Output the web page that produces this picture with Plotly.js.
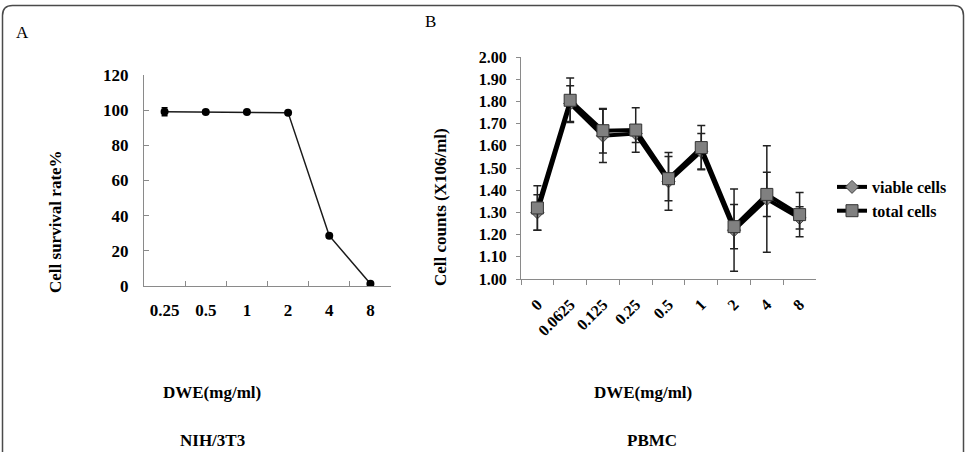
<!DOCTYPE html>
<html>
<head>
<meta charset="utf-8">
<script src="https://cdn.plot.ly/plotly-3.0.1.min.js"></script>
<style>
  html, body { margin: 0; padding: 0; background: #fff; }
  #chart { width: 967px; height: 452px; }
</style>
</head>
<body>
<div id="chart"></div>
<script>
// Panel A: NIH/3T3 survival versus DWE dose
const doseA = ['0.25', '0.5', '1', '2', '4', '8'];
const survival = [99.1, 99.0, 99.0, 98.6, 28.6, 1.3];
const survivalErr = [2.3, 0.8, 1.0, 0.8, 1.0, 0.8];

// Panel B: PBMC cell counts (x10^6/ml) versus DWE dose
const doseB = ['0', '0.0625', '0.125', '0.25', '0.5', '1', '2', '4', '8'];
const viable = [1.30, 1.79, 1.645, 1.655, 1.44, 1.575, 1.22, 1.36, 1.275];
const viableErr = [0.08, 0.08, 0.12, 0.04, 0.13, 0.08, 0.185, 0.24, 0.05];
const total = [1.32, 1.805, 1.668, 1.671, 1.452, 1.592, 1.236, 1.381, 1.29];
const totalErr = [0.10, 0.10, 0.10, 0.10, 0.10, 0.10, 0.10, 0.10, 0.10];

const W = 967, H = 452;
const px = x => x / W;
const py = y => 1 - y / H;
const SERIF = '"Liberation Serif", "Times New Roman", serif';
const boldFont = size => ({ family: SERIF, size: size, color: '#000', weight: 'bold' });

const traces = [
  {
    x: doseA, y: survival, xaxis: 'x', yaxis: 'y',
    type: 'scatter', mode: 'lines+markers', showlegend: false,
    line: { color: '#1a1a1a', width: 1.5 },
    marker: { symbol: 'circle', size: 8, color: '#000' },
    error_y: { type: 'data', array: survivalErr, visible: true, color: '#000', thickness: 1.5, width: 3 }
  },
  {
    name: 'viable cells',
    x: doseB, y: viable, xaxis: 'x2', yaxis: 'y2',
    type: 'scatter', mode: 'lines+markers',
    line: { color: '#000', width: 4 },
    marker: { symbol: 'diamond', size: 10, color: '#8c8c8c', line: { color: '#444', width: 1 } },
    error_y: { type: 'data', array: viableErr, visible: true, color: '#222', thickness: 1.5, width: 4 }
  },
  {
    name: 'total cells',
    x: doseB, y: total, xaxis: 'x2', yaxis: 'y2',
    type: 'scatter', mode: 'lines+markers',
    line: { color: '#000', width: 4 },
    marker: { symbol: 'square', size: 12, color: '#808080', line: { color: '#333', width: 1 } },
    error_y: { type: 'data', array: totalErr, visible: true, color: '#222', thickness: 1.5, width: 4 }
  }
];

// rounded frame around both panels, open at the bottom edge
const x0 = px(2.5), x1 = px(963.5), yt = py(5.5), yb = py(470), r = 10;
const framePath = `M ${x0} ${yb} L ${x0} ${py(5.5 + r)} Q ${x0} ${yt} ${px(2.5 + r)} ${yt} ` +
  `L ${px(963.5 - r)} ${yt} Q ${x1} ${yt} ${x1} ${py(5.5 + r)} L ${x1} ${yb}`;

// centred text label placed by pixel position
const label = (text, x, y, font, angle) => ({
  text: text, x: px(x), y: py(y), xref: 'paper', yref: 'paper',
  xanchor: 'center', yanchor: 'middle', showarrow: false,
  textangle: angle || 0, font: font
});

const layout = {
  width: W, height: H,
  margin: { l: 0, r: 0, t: 0, b: 0 },
  paper_bgcolor: '#fff', plot_bgcolor: 'rgba(0,0,0,0)',
  font: { family: SERIF, color: '#000' },
  showlegend: true,
  legend: {
    x: px(832), y: py(170), xanchor: 'left', yanchor: 'top',
    font: boldFont(16), bgcolor: 'rgba(0,0,0,0)', tracegroupgap: 0
  },
  xaxis: {
    domain: [px(144), px(391)], anchor: 'y',
    type: 'category', range: [-0.5, 5.5], tickson: 'boundaries',
    showgrid: false, showline: true, linecolor: '#8a8a8a', linewidth: 1,
    ticks: 'inside', ticklen: 5, tickcolor: '#8a8a8a',
    tickfont: boldFont(17), ticklabelstandoff: 9, fixedrange: true
  },
  yaxis: {
    domain: [py(286), py(75)], anchor: 'x',
    range: [0, 120], dtick: 20, showgrid: false, zeroline: false,
    showline: true, linecolor: '#8a8a8a', linewidth: 1,
    ticks: 'inside', ticklen: 5, tickcolor: '#8a8a8a',
    tickfont: boldFont(17), ticklabelstandoff: 11, fixedrange: true
  },
  xaxis2: {
    domain: [px(521), px(816)], anchor: 'y2',
    type: 'category', range: [-0.5, 8.5], tickson: 'boundaries',
    showgrid: false, showline: true, linecolor: '#8a8a8a', linewidth: 1,
    ticks: 'outside', ticklen: 5, tickcolor: '#8a8a8a',
    tickangle: -45, tickfont: boldFont(16), ticklabelstandoff: 9, fixedrange: true
  },
  yaxis2: {
    domain: [py(279), py(57)], anchor: 'x2',
    range: [1, 2], dtick: 0.1, tickformat: '.2f', showgrid: false, zeroline: false,
    showline: true, linecolor: '#8a8a8a', linewidth: 1,
    ticks: 'outside', ticklen: 4, tickcolor: '#8a8a8a',
    tickfont: boldFont(16), ticklabelstandoff: 6, fixedrange: true
  },
  shapes: [
    { type: 'path', xref: 'paper', yref: 'paper', path: framePath,
      line: { color: '#4a4a4a', width: 1.5 } }
  ],
  annotations: [
    label('A', 22, 33, { family: SERIF, size: 17, color: '#000' }),
    label('B', 430, 22, { family: SERIF, size: 17, color: '#000' }),
    label('Cell survival rate%', 55, 222, boldFont(17), -90),
    label('Cell counts (X106/ml)', 440, 207, boldFont(17), -90),
    label('DWE(mg/ml)', 212, 392, boldFont(17)),
    label('DWE(mg/ml)', 643, 392, boldFont(17)),
    label('NIH/3T3', 212, 440, boldFont(17)),
    label('PBMC', 652, 440, boldFont(17))
  ]
};

Plotly.newPlot('chart', traces, layout, { displayModeBar: false, staticPlot: true });
</script>
</body>
</html>
